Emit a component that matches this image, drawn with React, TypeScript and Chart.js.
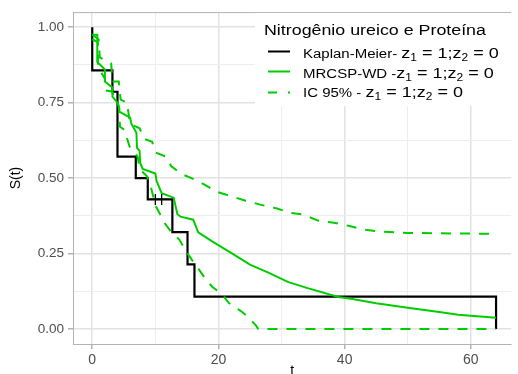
import React, { useEffect, useRef } from "react";
import { Chart, registerables } from "chart.js";

Chart.register(...registerables);

// ---------- data ----------
const kmTimes = [0, 0, 3.2, 4, 6.9, 8.8, 12.7, 15.1, 16.2, 64, 64];
const kmSurv = [1, 0.857, 0.786, 0.571, 0.5, 0.429, 0.321, 0.214, 0.107, 0.107, 0];

const censorTimes = [10, 11];
const censorSurv = [0.429, 0.429];

const fitTimes = [0, 0.8, 0.8, 2, 2, 3.2, 3.2, 4, 4.3, 4.3, 6, 6.2, 7, 7.1, 7.5, 7.6, 8, 10, 10.2, 11, 12.9, 13.5, 14, 16, 16.8, 19, 22, 25, 28, 31, 34, 39, 41, 45, 50, 55, 58, 64];
const fitSurv = [0.975, 0.975, 0.885, 0.86, 0.82, 0.8, 0.77, 0.75, 0.73, 0.72, 0.7, 0.68, 0.65, 0.6, 0.59, 0.55, 0.53, 0.515, 0.49, 0.45, 0.435, 0.38, 0.372, 0.362, 0.32, 0.29, 0.252, 0.213, 0.186, 0.156, 0.136, 0.106, 0.1, 0.085, 0.07, 0.056, 0.047, 0.037];

const upperTimes = [0, 1, 1.2, 3, 3.2, 4.2, 4.5, 5.5, 6, 7.5, 8.2, 9.5, 10, 11.7, 12.5, 14, 16, 18, 19.5, 22, 24.3, 26.6, 29.3, 31.3, 33.4, 35.8, 38.3, 40.6, 43, 45.9, 50, 64];
const upperSurv = [0.975, 0.96, 0.9, 0.88, 0.82, 0.82, 0.76, 0.75, 0.68, 0.665, 0.63, 0.62, 0.585, 0.571, 0.54, 0.515, 0.497, 0.476, 0.456, 0.44, 0.425, 0.412, 0.399, 0.385, 0.379, 0.359, 0.352, 0.342, 0.329, 0.322, 0.318, 0.315];

const lowerTimes = [0, 0.9, 0.9, 2, 2.1, 3.1, 4.2, 4.4, 5.1, 5.9, 7.2, 7.5, 8.7, 9.3, 10, 10.5, 11.5, 12.5, 13.8, 14.8, 15.8, 16.8, 17.8, 19, 20.5, 21.7, 23.5, 24.7, 26, 26.3, 64];
const lowerSurv = [0.96, 0.95, 0.867, 0.83, 0.79, 0.787, 0.74, 0.67, 0.66, 0.605, 0.571, 0.53, 0.505, 0.47, 0.41, 0.39, 0.35, 0.322, 0.296, 0.26, 0.229, 0.2, 0.17, 0.14, 0.116, 0.085, 0.06, 0.04, 0.01, 0, 0];

const xMajor = [0, 20, 40, 60];
const xMinor = [10, 30, 50];
const xTickLabels = ["0", "20", "40", "60"];
const yMajor = [0, 0.25, 0.5, 0.75, 1];
const yMinor = [0.125, 0.375, 0.625, 0.875];
const yTickLabels = ["0.00", "0.25", "0.50", "0.75", "1.00"];

const xTitle = "t";
const yTitle = "S(t)";
const legendTitle = "Nitrogênio ureico e Proteína";
const legendPrefixes = ["Kaplan-Meier- ", "MRCSP-WD -", "IC 95% - "];
const legendMath: { t: string; sub?: boolean }[] = [
  { t: "z" },
  { t: "1", sub: true },
  { t: " = 1;" },
  { t: "z" },
  { t: "2", sub: true },
  { t: " = 0" },
];

// ---------- styles ----------
const FONT = "'Liberation Sans', Arial, sans-serif";
const GREEN = "#00CD00";
const BLACK = "#000000";
const DASH = [10, 9];
const X_MIN = -3.05;
const X_MAX = 66.4;
const Y_MIN = -0.05;
const Y_MAX = 1.05;

const pts = (xs: number[], ys: number[]) => xs.map((x, i) => ({ x, y: ys[i] }));

const overlayPlugin = {
  id: "overlay",
  afterDatasetsDraw(chart: any) {
    const { ctx, chartArea: a } = chart;
    ctx.save();
    // top panel border
    ctx.strokeStyle = "#b3b3b3";
    ctx.lineWidth = 1;
    ctx.beginPath();
    ctx.moveTo(a.left, a.top + 0.5);
    ctx.lineTo(a.right, a.top + 0.5);
    ctx.stroke();

    // legend box
    const lx = 255;
    ctx.fillStyle = "#ffffff";
    ctx.fillRect(lx, a.top + 1, a.right - lx, 93);

    ctx.fillStyle = "#000";
    ctx.textAlign = "left";
    ctx.textBaseline = "alphabetic";
    ctx.save();
    ctx.translate(264, 35);
    ctx.scale(1.15, 1);
    ctx.font = `15.5px ${FONT}`;
    ctx.fillText(legendTitle, 0, 0);
    ctx.restore();

    const keyY = [51.5, 71.5, 92.5];
    const baseY = [57.5, 77.5, 97];
    const styles = [
      { color: BLACK, dash: [] as number[] },
      { color: GREEN, dash: [] as number[] },
      { color: GREEN, dash: [9, 11] },
    ];
    for (let i = 0; i < 3; i++) {
      ctx.save();
      ctx.strokeStyle = styles[i].color;
      ctx.lineWidth = 2;
      ctx.setLineDash(styles[i].dash);
      ctx.beginPath();
      ctx.moveTo(268, keyY[i]);
      ctx.lineTo(290, keyY[i]);
      ctx.stroke();
      ctx.restore();

      ctx.save();
      ctx.translate(303, baseY[i]);
      ctx.scale(1.2, 1);
      ctx.fillStyle = "#000";
      ctx.font = `12.5px ${FONT}`;
      let x = 0;
      ctx.fillText(legendPrefixes[i], x, 0);
      x += ctx.measureText(legendPrefixes[i]).width;
      for (const seg of legendMath) {
        ctx.font = seg.sub ? `10px ${FONT}` : `15px ${FONT}`;
        ctx.fillText(seg.t, x, seg.sub ? 3 : 0);
        x += ctx.measureText(seg.t).width;
      }
      ctx.restore();
    }
    ctx.restore();
  },
};

export default function App() {
  const ref = useRef<HTMLCanvasElement>(null);

  useEffect(() => {
    const isMajorX = (v: number) => xMajor.includes(v);
    const isMajorY = (v: number) => yMajor.some((m) => Math.abs(m - v) < 1e-9);

    const chart = new Chart(ref.current as HTMLCanvasElement, {
      type: "line",
      data: {
        datasets: [
          {
            label: "censor",
            data: pts(censorTimes, censorSurv),
            showLine: false,
            pointStyle: "cross",
            pointRadius: 5.5,
            pointBorderWidth: 1.3,
            pointBorderColor: BLACK,
            borderColor: BLACK,
            order: 0,
          } as any,
          {
            label: "upper",
            data: pts(upperTimes, upperSurv),
            borderColor: GREEN,
            borderWidth: 2,
            borderDash: DASH,
            pointRadius: 0,
            tension: 0,
            order: 1,
          },
          {
            label: "lower",
            data: pts(lowerTimes, lowerSurv),
            borderColor: GREEN,
            borderWidth: 2,
            borderDash: DASH,
            pointRadius: 0,
            tension: 0,
            order: 1,
          },
          {
            label: "fit",
            data: pts(fitTimes, fitSurv),
            borderColor: GREEN,
            borderWidth: 2,
            pointRadius: 0,
            tension: 0,
            order: 2,
          },
          {
            label: "km",
            data: pts(kmTimes, kmSurv),
            borderColor: BLACK,
            borderWidth: 2.2,
            pointRadius: 0,
            stepped: "before",
            order: 3,
          },
        ],
      },
      options: {
        responsive: false,
        animation: false,
        devicePixelRatio: 1,
        layout: { padding: { top: 12, left: 0, right: 0, bottom: 0 } },
        plugins: { legend: { display: false }, tooltip: { enabled: false } },
        scales: {
          x: {
            type: "linear",
            min: X_MIN,
            max: X_MAX,
            afterBuildTicks: (s: any) => {
              s.ticks = [...xMajor, ...xMinor].sort((a, b) => a - b).map((v) => ({ value: v }));
            },
            afterFit: (s: any) => {
              s.height = 30;
            },
            ticks: {
              autoSkip: false,
              maxRotation: 0,
              padding: 3,
              color: "#4d4d4d",
              font: { family: FONT, size: 14 },
              callback: (v: any) => {
                const i = xMajor.indexOf(Number(v));
                return i >= 0 ? xTickLabels[i] : "";
              },
            },
            grid: {
              color: (c: any) => (c.tick && isMajorX(c.tick.value) ? "#e2e2e2" : "#eeeeee"),
              lineWidth: (c: any) => (c.tick && isMajorX(c.tick.value) ? 1.5 : 1),
              tickColor: (c: any) => (c.tick && isMajorX(c.tick.value) ? "#b3b3b3" : "rgba(0,0,0,0)"),
              tickLength: 5,
              drawTicks: true,
            },
            border: { display: true, color: "#b3b3b3", width: 1 },
            title: {
              display: true,
              text: xTitle,
              color: "#000",
              font: { family: FONT, size: 14 },
              padding: { top: 0, bottom: -6 },
            },
          },
          y: {
            type: "linear",
            min: Y_MIN,
            max: Y_MAX,
            afterBuildTicks: (s: any) => {
              s.ticks = [...yMajor, ...yMinor].sort((a, b) => a - b).map((v) => ({ value: v }));
            },
            afterFit: (s: any) => {
              s.width = 73;
            },
            ticks: {
              autoSkip: false,
              padding: 4,
              color: "#4d4d4d",
              font: { family: FONT, size: 13.5 },
              callback: (v: any) => {
                const i = yMajor.findIndex((m) => Math.abs(m - Number(v)) < 1e-9);
                return i >= 0 ? yTickLabels[i] : "";
              },
            },
            grid: {
              color: (c: any) => (c.tick && isMajorY(c.tick.value) ? "#e2e2e2" : "#eeeeee"),
              lineWidth: (c: any) => (c.tick && isMajorY(c.tick.value) ? 1.5 : 1),
              tickColor: (c: any) => (c.tick && isMajorY(c.tick.value) ? "#b3b3b3" : "rgba(0,0,0,0)"),
              tickLength: 5,
              drawTicks: true,
            },
            border: { display: true, color: "#b3b3b3", width: 1 },
            title: {
              display: true,
              text: yTitle,
              color: "#000",
              font: { family: FONT, size: 14 },
              padding: { top: 8, bottom: 0 },
            },
          },
        },
      },
      plugins: [overlayPlugin],
    } as any);
    return () => chart.destroy();
  }, []);

  return (
    <div style={{ position: "fixed", left: 0, top: 0, width: 518, height: 374, background: "#fff" }}>
      <canvas ref={ref} width={518} height={374} style={{ display: "block", width: 518, height: 374 }} />
    </div>
  );
}
